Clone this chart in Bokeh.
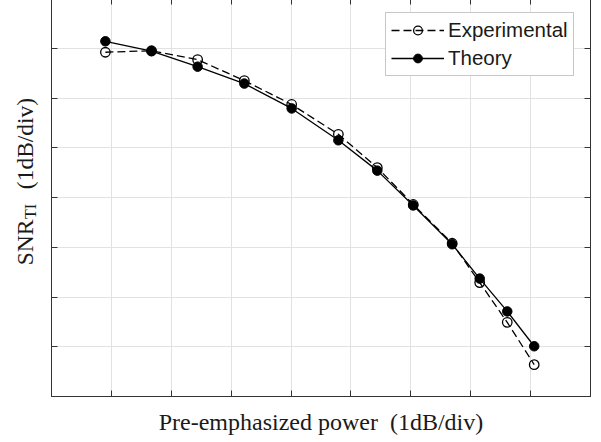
import math
from bokeh.plotting import figure
from bokeh.layouts import row
from bokeh.models import (Range1d, LinearAxis, FixedTicker, Label, Legend,
                          LegendItem, ColumnDataSource)
from bokeh.embed import file_html
from bokeh.resources import INLINE

# ---- data (1 dB per division) ----
power = [0.90, 1.67, 2.44, 3.22, 4.01, 4.79, 5.44, 6.04, 6.69, 7.15, 7.61, 8.06]
snr_theory = [7.14, 6.94, 6.63, 6.29, 5.79, 5.15, 4.54, 3.84, 3.06, 2.37, 1.71, 1.01]
snr_experimental = [6.92, 6.95, 6.77, 6.35, 5.87, 5.27, 4.60, 3.86, 3.08, 2.29, 1.49, 0.64]
x_ticks = [1, 2, 3, 4, 5, 6, 7, 8]
y_ticks = [1, 2, 3, 4, 5, 6, 7]
x_label = "Pre-emphasized power \u00a0(1dB/div)"
y_label_main = "SNR"
y_label_sub = "TI"
y_label_unit = "(1dB/div)"
series_names = ["Experimental", "Theory"]

AX = "#333333"
GRID = "#e2e2e2"
TXT = "#1a1a1a"
SERIF = "Liberation Serif"
SANS = "Liberation Sans"

W_TOTAL, H_TOTAL = 601, 444
W_LEFT = 47          # strip holding the vertical title
FRAME_LEFT = 51      # frame left edge in page pixels
FRAME_BOTTOM = 396   # frame bottom edge in page pixels
PX_PER_Y = 49.75     # page pixels per y unit

y_range = Range1d(0, 8)

# ---------- left strip with the y title (its frame is aligned with the main frame) ----------
pl = figure(width=W_LEFT, height=H_TOTAL, output_backend="svg", toolbar_location=None,
            x_range=Range1d(0, W_LEFT), y_range=y_range,
            x_axis_location=None, y_axis_location=None, min_border=0,
            min_border_bottom=46)
pl.outline_line_color = None
pl.xgrid.visible = False
pl.ygrid.visible = False
pl.background_fill_color = "white"
pl.border_fill_color = "white"

# (text, page x of text centre line, page y of text centre, size)
for txt, px, py, size in [(y_label_main, 24, 242, "23.5px"),
                          (y_label_sub, 30, 211, "16px"),
                          (y_label_unit, 24, 143, "23.5px")]:
    pl.add_layout(Label(x=px, y=(FRAME_BOTTOM - py) / PX_PER_Y, text=txt,
                        text_font=SERIF, text_font_size=size, text_color=TXT,
                        angle=math.pi / 2, text_align="center",
                        text_baseline="middle"))

# ---------- main plot ----------
p = figure(width=W_TOTAL - W_LEFT, height=H_TOTAL, output_backend="svg",
           toolbar_location=None,
           x_range=Range1d(0, 9), y_range=y_range,
           min_border_left=FRAME_LEFT - W_LEFT, min_border_right=11,
           min_border_top=0, min_border_bottom=46)
p.background_fill_color = "white"
p.border_fill_color = "white"
p.outline_line_color = AX
p.outline_line_width = 1

p.add_layout(LinearAxis(), "above")
p.add_layout(LinearAxis(), "right")

for ax in p.axis:
    ax.axis_line_color = AX
    ax.axis_line_width = 1
    ax.major_tick_line_color = AX
    ax.major_tick_in = 6
    ax.major_tick_out = 0
    ax.minor_tick_line_color = None
    ax.major_label_text_font_size = "0px"
    ax.major_label_standoff = 0
    ax.axis_label_standoff = 0

for ax in p.xaxis:
    ax.ticker = FixedTicker(ticks=x_ticks)
    ax.major_label_overrides = {t: "" for t in x_ticks}
for ax in p.yaxis:
    ax.ticker = FixedTicker(ticks=y_ticks)
    ax.major_label_overrides = {t: "" for t in y_ticks}

xa = p.below[0]
xa.axis_label = x_label
xa.axis_label_text_font = SERIF
xa.axis_label_text_font_size = "24px"
xa.axis_label_text_font_style = "normal"
xa.axis_label_text_color = TXT
xa.axis_label_standoff = 12

p.xgrid.ticker = FixedTicker(ticks=x_ticks)
p.ygrid.ticker = FixedTicker(ticks=y_ticks)
p.grid.grid_line_color = GRID
p.grid.grid_line_width = 1

src = ColumnDataSource(dict(x=power, th=snr_theory, ex=snr_experimental))

l_ex = p.line("x", "ex", source=src, line_color="black", line_width=1.3,
              line_dash="8 4")
s_ex = p.scatter("x", "ex", source=src, marker="circle", size=9.5,
                 fill_color=None, line_color="black", line_width=1.3)
l_th = p.line("x", "th", source=src, line_color="black", line_width=1.3)
s_th = p.scatter("x", "th", source=src, marker="circle", size=9.5,
                 fill_color="black", line_color="black", line_width=1)

legend = Legend(items=[LegendItem(label=series_names[0], renderers=[l_ex, s_ex]),
                       LegendItem(label=series_names[1], renderers=[l_th, s_th])],
                location=(334, 320))
legend.label_text_font = SANS
legend.label_text_font_size = "20.5px"
legend.label_text_color = TXT
legend.label_text_baseline = "middle"
legend.glyph_width = 53
legend.glyph_height = 22
legend.label_height = 22
legend.label_width = 120
legend.label_standoff = 4
legend.padding = 5
legend.spacing = 4
legend.margin = 0
legend.border_line_color = "#8f8f8f"
legend.border_line_width = 1
legend.background_fill_color = "white"
legend.background_fill_alpha = 1
p.add_layout(legend)

layout = row(pl, p, spacing=0)
layout.styles = {"margin-top": "-2px"}

open("out.html", "w").write(file_html(layout, INLINE))
